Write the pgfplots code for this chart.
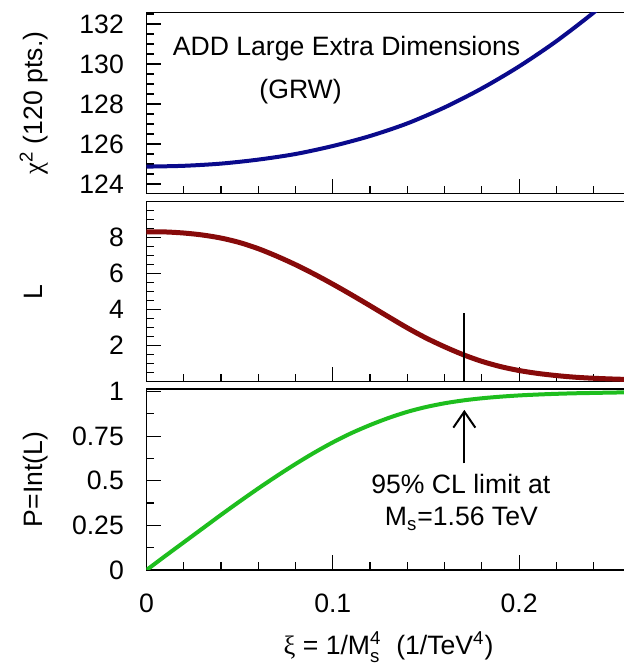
\documentclass[border=0pt]{standalone}
\usepackage{pgfplots}
\pgfplotsset{compat=1.18}
\usepackage{amsmath}
\usepackage{fontspec}
\setmainfont{Liberation Sans}
\newfontfamily\grk{Liberation Serif}
\usetikzlibrary{arrows.meta}
\definecolor{cblue}{RGB}{10,10,140}
\definecolor{cred}{RGB}{135,10,10}
\definecolor{cgreen}{RGB}{30,190,30}
\newcommand\fs{\fontsize{13.3}{16}\selectfont}

\pgfplotstableread{
x y
0     124.87
0.02  124.91
0.04  125.02
0.06  125.22
0.08  125.50
0.10  125.90
0.12  126.40
0.14  127.03
0.16  127.83
0.18  128.78
0.20  129.88
0.22  131.14
0.24  132.57
0.25  133.40
}\chisq

\pgfplotstableread{
x y
0     8.33
0.01  8.32
0.02  8.26
0.03  8.15
0.04  7.98
0.05  7.73
0.06  7.39
0.07  6.97
0.08  6.50
0.09  5.98
0.10  5.42
0.11  4.83
0.12  4.22
0.13  3.60
0.14  2.99
0.15  2.43
0.16  1.94
0.17  1.50
0.18  1.13
0.19  0.84
0.20  0.62
0.21  0.46
0.22  0.34
0.23  0.25
0.24  0.19
0.25  0.15
0.2563 0.13
}\like

\pgfplotstableread{
x y
0     0
0.01  0.078
0.02  0.155
0.03  0.232
0.04  0.309
0.05  0.384
0.06  0.457
0.07  0.527
0.08  0.594
0.09  0.657
0.10  0.715
0.11  0.767
0.12  0.812
0.13  0.852
0.14  0.886
0.15  0.913
0.16  0.934
0.17  0.950
0.18  0.962
0.19  0.971
0.20  0.978
0.21  0.983
0.22  0.987
0.23  0.990
0.24  0.992
0.25  0.994
0.2563 0.995
}\prob

\pgfplotsset{
  panel/.style={
    scale only axis, width=238.75pt,
    xmin=0, xmax=0.2563,
    axis x line*=box, axis y line*=left,
    axis line style={-, line width=0.6pt, black},
    tick align=inside, xtick pos=bottom, ytick pos=left,
    major tick length=7.5pt, minor tick length=4pt,
    tick style={line width=0.6pt, black},
    xtick={0,0.1,0.2},
    minor xtick={0.02,0.04,0.06,0.08,0.12,0.14,0.16,0.18,0.22,0.24},
    xticklabels={},
    yticklabel style={font=\fs, xshift=-7.8pt},
    xticklabel style={font=\fs, yshift=-8.6pt},
    ylabel style={font=\fs, at={(axis description cs:-0.2168,0.5)}, anchor=base},
  }
}

\begin{document}
\begin{tikzpicture}
\useasboundingbox (0,0) rectangle (312pt,332.5pt);

% top panel
\begin{axis}[panel, at={(73.25pt,326.15pt)}, anchor=north west,
  height=90.4pt, ymin=123.525, ymax=132.565,
  ytick={124,126,128,130,132}, yticklabels={124,126,128,130,132},
  minor ytick={124.5,125,125.5,126.5,127,127.5,128.5,129,129.5,130.5,131,131.5,132.5},
  ylabel={{\grk χ}\textsuperscript{2} (120 pts.)}]
\addplot[cblue, line width=2pt, smooth] table[x=x,y=y] {\chisq};
\node[anchor=base, font=\fs] at (axis cs:0.1074,130.45) {ADD Large Extra Dimensions};
\node[anchor=base, font=\fs] at (axis cs:0.0827,128.3) {(GRW)};
\end{axis}

% middle panel
\begin{axis}[panel, at={(73.25pt,231.65pt)}, anchor=north west,
  height=90pt, ymin=0, ymax=10,
  ytick={2,4,6,8}, yticklabels={2,4,6,8},
  minor ytick={0.5,1,1.5,2.5,3,3.5,4.5,5,5.5,6.5,7,7.5,8.5,9,9.5},
  ylabel={L}]
\addplot[cred, line width=2.5pt, smooth] table[x=x,y=y] {\like};
\addplot[black, line width=1pt] coordinates {(0.1706,0) (0.1706,3.8)};
\end{axis}

% bottom panel
\begin{axis}[panel, at={(73.25pt,138pt)}, anchor=north west,
  height=90.5pt, ymin=0, ymax=1.014,
  ytick={0,0.25,0.5,0.75,1}, yticklabels={0,0.25,0.5,0.75,1},
  minor ytick={0.125,0.375,0.625,0.875},
  xticklabels={0,0.1,0.2},
  ylabel={P=Int(L)},
  xlabel={{\grk ξ} = 1/M$_{\text{s}}^{\text{4}}$\ \ (1/TeV\textsuperscript{4})},
  xlabel style={font=\fs, at={(axis description cs:0.5068,-0.4696)}, anchor=base}]
\addplot[cgreen, line width=2pt, smooth] table[x=x,y=y] {\prob};
\addplot[black, line width=1pt, -{Straight Barb[length=8pt,width=11pt]}] coordinates {(0.1706,0.598) (0.1706,0.897)};
\node[anchor=base, font=\fs] at (axis cs:0.1687,0.43) {95\% CL limit at};
\node[anchor=base, font=\fs] at (axis cs:0.169,0.247) {M$_{\text{s}}$=1.56 TeV};
\end{axis}
\end{tikzpicture}
\end{document}
